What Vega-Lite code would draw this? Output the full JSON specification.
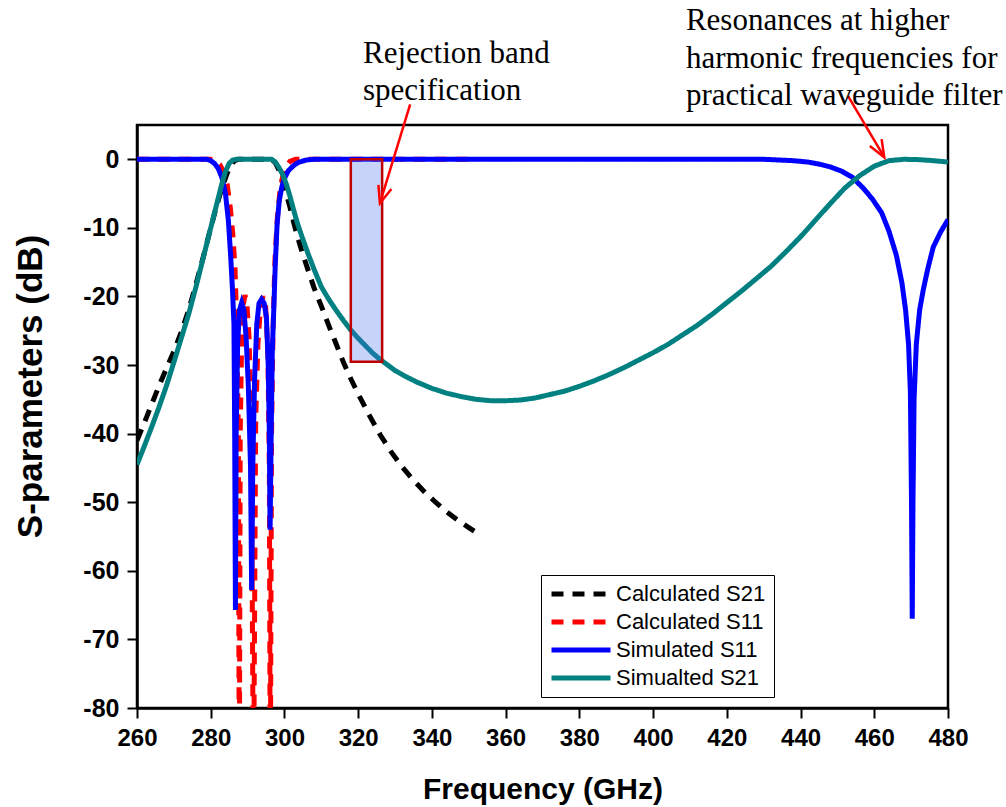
{
  "$schema": "https://vega.github.io/schema/vega-lite/v6.json",
  "width": 811,
  "height": 583,
  "autosize": {"type": "none"},
  "padding": {"left": 137, "top": 125, "right": 58, "bottom": 99},
  "background": "white",
  "config": {
    "view": {"stroke": "black", "strokeWidth": 2.5},
    "font": "Liberation Sans",
    "axis": {
      "domainColor": "black", "domainWidth": 2.5, "tickColor": "black", "tickWidth": 2,
      "labelColor": "black", "titleColor": "black", "labelFont": "Liberation Sans", "titleFont": "Liberation Sans",
      "labelFontWeight": "bold", "titleFontWeight": "bold", "labelFontSize": 24, "titleFontSize": 30, "grid": false
    }
  },
  "datasets": {
    "curves": [
      {"series": "Calculated S21", "f": 260, "db": -41},
      {"series": "Calculated S21", "f": 262, "db": -38.4},
      {"series": "Calculated S21", "f": 264, "db": -35.7},
      {"series": "Calculated S21", "f": 266, "db": -33},
      {"series": "Calculated S21", "f": 268, "db": -30.5},
      {"series": "Calculated S21", "f": 270, "db": -28},
      {"series": "Calculated S21", "f": 272, "db": -25.2},
      {"series": "Calculated S21", "f": 274, "db": -22},
      {"series": "Calculated S21", "f": 276, "db": -18.2},
      {"series": "Calculated S21", "f": 278, "db": -14.2},
      {"series": "Calculated S21", "f": 280, "db": -10},
      {"series": "Calculated S21", "f": 281.5, "db": -7},
      {"series": "Calculated S21", "f": 283, "db": -4.2},
      {"series": "Calculated S21", "f": 284.5, "db": -2},
      {"series": "Calculated S21", "f": 285.5, "db": -0.8},
      {"series": "Calculated S21", "f": 286.5, "db": -0.2},
      {"series": "Calculated S21", "f": 287.5, "db": 0},
      {"series": "Calculated S21", "f": 296.5, "db": 0},
      {"series": "Calculated S21", "f": 297.5, "db": -0.5},
      {"series": "Calculated S21", "f": 298.5, "db": -1.6},
      {"series": "Calculated S21", "f": 299.5, "db": -3.2},
      {"series": "Calculated S21", "f": 300.5, "db": -5},
      {"series": "Calculated S21", "f": 301.5, "db": -7},
      {"series": "Calculated S21", "f": 302.5, "db": -9.2},
      {"series": "Calculated S21", "f": 303.5, "db": -11.2},
      {"series": "Calculated S21", "f": 304.5, "db": -13},
      {"series": "Calculated S21", "f": 305.5, "db": -14.7},
      {"series": "Calculated S21", "f": 306.5, "db": -16.3},
      {"series": "Calculated S21", "f": 308, "db": -18.7},
      {"series": "Calculated S21", "f": 310, "db": -21.4},
      {"series": "Calculated S21", "f": 312, "db": -24.2},
      {"series": "Calculated S21", "f": 314, "db": -26.9},
      {"series": "Calculated S21", "f": 316, "db": -29.6},
      {"series": "Calculated S21", "f": 318, "db": -32},
      {"series": "Calculated S21", "f": 320, "db": -34.2},
      {"series": "Calculated S21", "f": 323, "db": -37.3},
      {"series": "Calculated S21", "f": 326, "db": -40.2},
      {"series": "Calculated S21", "f": 329, "db": -42.7},
      {"series": "Calculated S21", "f": 332, "db": -44.9},
      {"series": "Calculated S21", "f": 335, "db": -46.8},
      {"series": "Calculated S21", "f": 338, "db": -48.5},
      {"series": "Calculated S21", "f": 341, "db": -50},
      {"series": "Calculated S21", "f": 344, "db": -51.4},
      {"series": "Calculated S21", "f": 347, "db": -52.6},
      {"series": "Calculated S21", "f": 350, "db": -53.7},
      {"series": "Calculated S21", "f": 352, "db": -54.4},

      {"series": "Calculated S11", "f": 260, "db": 0},
      {"series": "Calculated S11", "f": 280, "db": 0},
      {"series": "Calculated S11", "f": 281.5, "db": -0.3},
      {"series": "Calculated S11", "f": 282.5, "db": -0.8},
      {"series": "Calculated S11", "f": 283.5, "db": -1.8},
      {"series": "Calculated S11", "f": 284.5, "db": -3.8},
      {"series": "Calculated S11", "f": 285.3, "db": -7},
      {"series": "Calculated S11", "f": 286, "db": -11},
      {"series": "Calculated S11", "f": 286.6, "db": -16},
      {"series": "Calculated S11", "f": 287.1, "db": -25},
      {"series": "Calculated S11", "f": 287.5, "db": -40},
      {"series": "Calculated S11", "f": 287.75, "db": -95},
      {"series": "Calculated S11", "f": 288, "db": -40},
      {"series": "Calculated S11", "f": 288.4, "db": -26},
      {"series": "Calculated S11", "f": 288.9, "db": -21},
      {"series": "Calculated S11", "f": 289.3, "db": -19.8},
      {"series": "Calculated S11", "f": 289.8, "db": -21},
      {"series": "Calculated S11", "f": 290.4, "db": -26},
      {"series": "Calculated S11", "f": 291, "db": -38},
      {"series": "Calculated S11", "f": 291.6, "db": -95},
      {"series": "Calculated S11", "f": 292.2, "db": -38},
      {"series": "Calculated S11", "f": 292.8, "db": -27},
      {"series": "Calculated S11", "f": 293.5, "db": -21.5},
      {"series": "Calculated S11", "f": 294.2, "db": -20},
      {"series": "Calculated S11", "f": 294.9, "db": -21.5},
      {"series": "Calculated S11", "f": 295.5, "db": -28},
      {"series": "Calculated S11", "f": 295.9, "db": -45},
      {"series": "Calculated S11", "f": 296.15, "db": -95},
      {"series": "Calculated S11", "f": 296.5, "db": -40},
      {"series": "Calculated S11", "f": 296.9, "db": -25},
      {"series": "Calculated S11", "f": 297.4, "db": -15},
      {"series": "Calculated S11", "f": 298, "db": -9},
      {"series": "Calculated S11", "f": 298.7, "db": -5},
      {"series": "Calculated S11", "f": 299.5, "db": -2.5},
      {"series": "Calculated S11", "f": 300.5, "db": -1},
      {"series": "Calculated S11", "f": 301.5, "db": -0.3},
      {"series": "Calculated S11", "f": 303, "db": 0},
      {"series": "Calculated S11", "f": 352, "db": 0},

      {"series": "Simulated S11", "f": 260, "db": 0},
      {"series": "Simulated S11", "f": 279, "db": 0},
      {"series": "Simulated S11", "f": 280, "db": -0.2},
      {"series": "Simulated S11", "f": 281, "db": -0.6},
      {"series": "Simulated S11", "f": 282, "db": -1.3},
      {"series": "Simulated S11", "f": 283, "db": -2.6},
      {"series": "Simulated S11", "f": 284, "db": -5},
      {"series": "Simulated S11", "f": 284.8, "db": -9},
      {"series": "Simulated S11", "f": 285.4, "db": -14},
      {"series": "Simulated S11", "f": 285.9, "db": -19},
      {"series": "Simulated S11", "f": 286.3, "db": -24},
      {"series": "Simulated S11", "f": 286.5, "db": -40},
      {"series": "Simulated S11", "f": 286.7, "db": -65.7},
      {"series": "Simulated S11", "f": 286.9, "db": -40},
      {"series": "Simulated S11", "f": 287.3, "db": -27},
      {"series": "Simulated S11", "f": 287.8, "db": -22},
      {"series": "Simulated S11", "f": 288.4, "db": -20.9},
      {"series": "Simulated S11", "f": 289, "db": -22},
      {"series": "Simulated S11", "f": 289.6, "db": -26},
      {"series": "Simulated S11", "f": 290.2, "db": -33},
      {"series": "Simulated S11", "f": 290.8, "db": -45},
      {"series": "Simulated S11", "f": 291.1, "db": -62.8},
      {"series": "Simulated S11", "f": 291.4, "db": -45},
      {"series": "Simulated S11", "f": 291.9, "db": -32},
      {"series": "Simulated S11", "f": 292.5, "db": -24},
      {"series": "Simulated S11", "f": 293.1, "db": -21},
      {"series": "Simulated S11", "f": 293.8, "db": -20.4},
      {"series": "Simulated S11", "f": 294.5, "db": -21},
      {"series": "Simulated S11", "f": 295.1, "db": -23},
      {"series": "Simulated S11", "f": 295.6, "db": -30},
      {"series": "Simulated S11", "f": 295.9, "db": -40},
      {"series": "Simulated S11", "f": 296.1, "db": -54},
      {"series": "Simulated S11", "f": 296.4, "db": -40},
      {"series": "Simulated S11", "f": 296.7, "db": -28},
      {"series": "Simulated S11", "f": 297.1, "db": -22},
      {"series": "Simulated S11", "f": 297.5, "db": -15.5},
      {"series": "Simulated S11", "f": 298, "db": -9.5},
      {"series": "Simulated S11", "f": 298.6, "db": -6},
      {"series": "Simulated S11", "f": 299.3, "db": -4},
      {"series": "Simulated S11", "f": 300, "db": -2.8},
      {"series": "Simulated S11", "f": 301, "db": -1.7},
      {"series": "Simulated S11", "f": 302.5, "db": -0.9},
      {"series": "Simulated S11", "f": 304, "db": -0.4},
      {"series": "Simulated S11", "f": 306, "db": -0.1},
      {"series": "Simulated S11", "f": 308, "db": 0},
      {"series": "Simulated S11", "f": 430, "db": 0},
      {"series": "Simulated S11", "f": 434, "db": -0.1},
      {"series": "Simulated S11", "f": 438, "db": -0.2},
      {"series": "Simulated S11", "f": 442, "db": -0.4},
      {"series": "Simulated S11", "f": 445, "db": -0.7},
      {"series": "Simulated S11", "f": 448, "db": -1.1},
      {"series": "Simulated S11", "f": 451, "db": -1.7},
      {"series": "Simulated S11", "f": 454, "db": -2.6},
      {"series": "Simulated S11", "f": 457, "db": -4.2},
      {"series": "Simulated S11", "f": 459.5, "db": -5.8},
      {"series": "Simulated S11", "f": 462, "db": -7.8},
      {"series": "Simulated S11", "f": 464, "db": -10.5},
      {"series": "Simulated S11", "f": 466, "db": -14},
      {"series": "Simulated S11", "f": 467.5, "db": -18},
      {"series": "Simulated S11", "f": 468.5, "db": -22},
      {"series": "Simulated S11", "f": 469.3, "db": -27},
      {"series": "Simulated S11", "f": 469.8, "db": -34},
      {"series": "Simulated S11", "f": 470.1, "db": -50},
      {"series": "Simulated S11", "f": 470.3, "db": -67},
      {"series": "Simulated S11", "f": 470.5, "db": -50},
      {"series": "Simulated S11", "f": 470.8, "db": -35},
      {"series": "Simulated S11", "f": 471.4, "db": -27},
      {"series": "Simulated S11", "f": 472.3, "db": -22},
      {"series": "Simulated S11", "f": 473.3, "db": -19},
      {"series": "Simulated S11", "f": 474.5, "db": -16},
      {"series": "Simulated S11", "f": 476, "db": -12.8},
      {"series": "Simulated S11", "f": 478, "db": -10.6},
      {"series": "Simulated S11", "f": 480, "db": -8.8},

      {"series": "Simualted S21", "f": 260, "db": -44.5},
      {"series": "Simualted S21", "f": 262, "db": -41.8},
      {"series": "Simualted S21", "f": 264, "db": -39},
      {"series": "Simualted S21", "f": 266, "db": -36.1},
      {"series": "Simualted S21", "f": 268, "db": -33},
      {"series": "Simualted S21", "f": 270, "db": -29.6},
      {"series": "Simualted S21", "f": 272, "db": -26.1},
      {"series": "Simualted S21", "f": 274, "db": -22.6},
      {"series": "Simualted S21", "f": 276, "db": -18.6},
      {"series": "Simualted S21", "f": 278, "db": -14.3},
      {"series": "Simualted S21", "f": 280, "db": -10},
      {"series": "Simualted S21", "f": 281.5, "db": -6.8},
      {"series": "Simualted S21", "f": 283, "db": -3.6},
      {"series": "Simualted S21", "f": 284, "db": -1.8},
      {"series": "Simualted S21", "f": 285, "db": -0.6},
      {"series": "Simualted S21", "f": 286, "db": -0.1},
      {"series": "Simualted S21", "f": 287, "db": 0},
      {"series": "Simualted S21", "f": 296.5, "db": 0},
      {"series": "Simualted S21", "f": 297.5, "db": -0.4},
      {"series": "Simualted S21", "f": 298.5, "db": -1.2},
      {"series": "Simualted S21", "f": 299.5, "db": -2.2},
      {"series": "Simualted S21", "f": 300.5, "db": -3.6},
      {"series": "Simualted S21", "f": 301.5, "db": -5.4},
      {"series": "Simualted S21", "f": 302.5, "db": -7.4},
      {"series": "Simualted S21", "f": 303.5, "db": -9.3},
      {"series": "Simualted S21", "f": 304.5, "db": -10.9},
      {"series": "Simualted S21", "f": 305.5, "db": -12.4},
      {"series": "Simualted S21", "f": 306.5, "db": -13.9},
      {"series": "Simualted S21", "f": 308, "db": -16},
      {"series": "Simualted S21", "f": 310, "db": -18.6},
      {"series": "Simualted S21", "f": 312, "db": -20.4},
      {"series": "Simualted S21", "f": 314, "db": -22},
      {"series": "Simualted S21", "f": 316, "db": -23.5},
      {"series": "Simualted S21", "f": 318, "db": -24.9},
      {"series": "Simualted S21", "f": 320, "db": -26.1},
      {"series": "Simualted S21", "f": 322, "db": -27.2},
      {"series": "Simualted S21", "f": 324, "db": -28.3},
      {"series": "Simualted S21", "f": 326, "db": -29.2},
      {"series": "Simualted S21", "f": 328, "db": -30},
      {"series": "Simualted S21", "f": 330, "db": -30.8},
      {"series": "Simualted S21", "f": 333, "db": -31.7},
      {"series": "Simualted S21", "f": 336, "db": -32.5},
      {"series": "Simualted S21", "f": 340, "db": -33.4},
      {"series": "Simualted S21", "f": 344, "db": -34.1},
      {"series": "Simualted S21", "f": 348, "db": -34.6},
      {"series": "Simualted S21", "f": 352, "db": -35},
      {"series": "Simualted S21", "f": 356, "db": -35.2},
      {"series": "Simualted S21", "f": 360, "db": -35.2},
      {"series": "Simualted S21", "f": 364, "db": -35.1},
      {"series": "Simualted S21", "f": 368, "db": -34.8},
      {"series": "Simualted S21", "f": 372, "db": -34.3},
      {"series": "Simualted S21", "f": 376, "db": -33.8},
      {"series": "Simualted S21", "f": 380, "db": -33.1},
      {"series": "Simualted S21", "f": 384, "db": -32.3},
      {"series": "Simualted S21", "f": 388, "db": -31.4},
      {"series": "Simualted S21", "f": 392, "db": -30.4},
      {"series": "Simualted S21", "f": 396, "db": -29.3},
      {"series": "Simualted S21", "f": 400, "db": -28.2},
      {"series": "Simualted S21", "f": 404, "db": -27},
      {"series": "Simualted S21", "f": 408, "db": -25.6},
      {"series": "Simualted S21", "f": 412, "db": -24.2},
      {"series": "Simualted S21", "f": 416, "db": -22.6},
      {"series": "Simualted S21", "f": 420, "db": -20.9},
      {"series": "Simualted S21", "f": 424, "db": -19.2},
      {"series": "Simualted S21", "f": 428, "db": -17.4},
      {"series": "Simualted S21", "f": 432, "db": -15.6},
      {"series": "Simualted S21", "f": 436, "db": -13.5},
      {"series": "Simualted S21", "f": 440, "db": -11.3},
      {"series": "Simualted S21", "f": 444, "db": -8.9},
      {"series": "Simualted S21", "f": 448, "db": -6.5},
      {"series": "Simualted S21", "f": 452, "db": -4.2},
      {"series": "Simualted S21", "f": 456, "db": -2.4},
      {"series": "Simualted S21", "f": 460, "db": -1},
      {"series": "Simualted S21", "f": 464, "db": -0.2},
      {"series": "Simualted S21", "f": 468, "db": 0},
      {"series": "Simualted S21", "f": 472, "db": -0.05},
      {"series": "Simualted S21", "f": 476, "db": -0.2},
      {"series": "Simualted S21", "f": 480, "db": -0.4}
    ]
  },
  "layer": [
    {
      "data": {"name": "curves"},
      "mark": {"type": "line", "clip": true, "strokeWidth": 5, "strokeCap": "butt"},
      "encoding": {
        "x": {
          "field": "f", "type": "quantitative",
          "scale": {"domain": [260, 480], "nice": false, "zero": false},
          "axis": {
            "title": "Frequency (GHz)",
            "values": [260, 270, 280, 290, 300, 310, 320, 330, 340, 350, 360, 370, 380, 390, 400, 410, 420, 430, 440, 450, 460, 470, 480],
            "labelExpr": "datum.value % 20 === 0 ? '' + datum.value : ''",
            "tickSize": {"condition": {"test": "datum.value % 20 === 0", "value": 10}, "value": 6},
            "labelOverlap": false, "labelFlush": false, "labelPadding": 8, "titlePadding": 24
          }
        },
        "y": {
          "field": "db", "type": "quantitative",
          "scale": {"domain": [-80, 5], "nice": false, "zero": false},
          "axis": {
            "title": "S-parameters (dB)",
            "titleFontSize": 35,
            "titleY": 261,
            "values": [-80, -75, -70, -65, -60, -55, -50, -45, -40, -35, -30, -25, -20, -15, -10, -5, 0],
            "labelExpr": "datum.value % 10 === 0 ? '' + datum.value : ''",
            "labelFontSize": 25,
            "tickSize": {"condition": {"test": "datum.value % 10 === 0", "value": 10}, "value": 6},
            "labelOverlap": false, "labelFlush": false, "labelPadding": 8, "titlePadding": 34
          }
        },
        "color": {
          "field": "series", "type": "nominal",
          "scale": {"domain": ["Calculated S21", "Calculated S11", "Simulated S11", "Simualted S21"], "range": ["#000000", "#ff0000", "#0000ff", "#008080"]},
          "legend": {
            "title": null, "orient": "none", "legendX": 404, "legendY": 450,
            "symbolType": "stroke", "symbolSize": 3481, "symbolStrokeWidth": 5, "clipHeight": 22, "rowPadding": 6,
            "labelFontSize": 22, "labelFont": "Liberation Sans", "labelColor": "black", "labelOffset": 3,
            "padding": 8, "strokeColor": "black", "fillColor": "white"
          }
        },
        "strokeDash": {
          "field": "series", "type": "nominal",
          "scale": {"domain": ["Calculated S21", "Calculated S11", "Simulated S11", "Simualted S21"], "range": [[12, 9], [12, 9], [1, 0], [1, 0]]},
          "legend": {
            "title": null, "orient": "none", "legendX": 404, "legendY": 450,
            "symbolType": "stroke", "symbolSize": 3481, "symbolStrokeWidth": 5, "clipHeight": 22, "rowPadding": 6,
            "labelFontSize": 22, "labelFont": "Liberation Sans", "labelColor": "black", "labelOffset": 3,
            "padding": 8, "strokeColor": "black", "fillColor": "white"
          }
        }
      }
    },
    {
      "data": {"values": [{"f1": 318, "f2": 326.5, "d1": 0, "d2": -29.5}]},
      "mark": {"type": "rect", "fill": "#4a6cf0", "fillOpacity": 0.3, "stroke": "#c00000", "strokeWidth": 2.5},
      "encoding": {
        "x": {"field": "f1", "type": "quantitative"},
        "x2": {"field": "f2"},
        "y": {"field": "d1", "type": "quantitative"},
        "y2": {"field": "d2"}
      }
    },
    {
      "data": {"values": [{"f1": 334.1, "d1": 8, "f2": 325.9, "d2": -6.4}, {"f1": 452.9, "d1": 9.2, "f2": 462.7, "d2": 0.3}]},
      "mark": {"type": "rule", "color": "#ff0000", "strokeWidth": 2.5},
      "encoding": {
        "x": {"field": "f1", "type": "quantitative"},
        "y": {"field": "d1", "type": "quantitative"},
        "x2": {"field": "f2"},
        "y2": {"field": "d2"}
      }
    },
    {
      "data": {"values": [{"f": 325.9, "d": -6.4}]},
      "mark": {"type": "point", "shape": "M-0.4,-1L0,0L0.4,-1", "size": 1156, "angle": 17, "filled": false, "stroke": "#ff0000", "strokeWidth": 2.5, "opacity": 1},
      "encoding": {
        "x": {"field": "f", "type": "quantitative"},
        "y": {"field": "d", "type": "quantitative"}
      }
    },
    {
      "data": {"values": [{"f": 462.7, "d": 0.3}]},
      "mark": {"type": "point", "shape": "M-0.4,-1L0,0L0.4,-1", "size": 1156, "angle": -30, "filled": false, "stroke": "#ff0000", "strokeWidth": 2.5, "opacity": 1},
      "encoding": {
        "x": {"field": "f", "type": "quantitative"},
        "y": {"field": "d", "type": "quantitative"}
      }
    },
    {
      "data": {"values": [{"f": 321.3, "d": 15.3, "label": ["Rejection band", "specification"]}]},
      "mark": {"type": "text", "align": "left", "baseline": "middle", "font": "Liberation Serif", "fontSize": 31, "lineHeight": 37, "color": "black"},
      "encoding": {
        "x": {"field": "f", "type": "quantitative"},
        "y": {"field": "d", "type": "quantitative"},
        "text": {"field": "label"}
      }
    },
    {
      "data": {"values": [{"f": 408.9, "d": 20.15, "label": ["Resonances at higher", "harmonic frequencies for", "practical waveguide filter"]}]},
      "mark": {"type": "text", "align": "left", "baseline": "middle", "font": "Liberation Serif", "fontSize": 31, "lineHeight": 37.5, "color": "black"},
      "encoding": {
        "x": {"field": "f", "type": "quantitative"},
        "y": {"field": "d", "type": "quantitative"},
        "text": {"field": "label"}
      }
    }
  ]
}
